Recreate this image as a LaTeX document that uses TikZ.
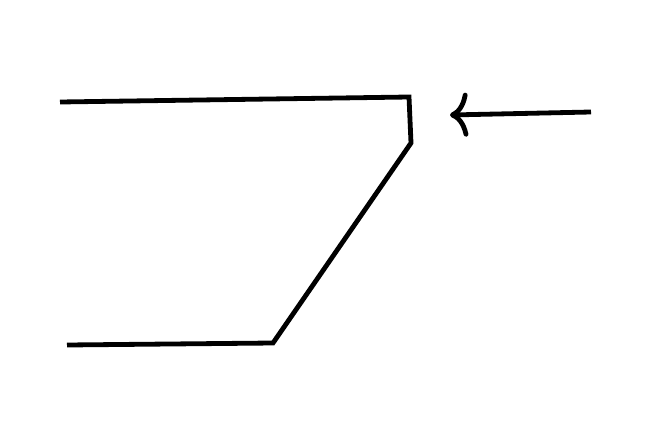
\documentclass[tikz,border=0pt]{standalone}
\usetikzlibrary{arrows.meta}

\begin{document}
\begin{tikzpicture}[x=1pt, y=-1pt, line width=4.8pt, line join=miter,
  stroke/.style={draw=black},
  pointer/.style={draw=black, -{To[length=18pt, width=44pt, line width=4.8pt]}}]
\useasboundingbox (0,0) rectangle (664,447);

\coordinate (topL) at (60,102);
\coordinate (topR) at (409,97);
\coordinate (edge) at (411,143);
\coordinate (botR) at (273,343);
\coordinate (botL) at (67,345);
\coordinate (tail) at (591,112);
\coordinate (tip) at (450,115);

\path[stroke] (topL) -- (topR) -- (edge) -- (botR) -- (botL);
\path[pointer] (tail) -- (tip);
\end{tikzpicture}
\end{document}
